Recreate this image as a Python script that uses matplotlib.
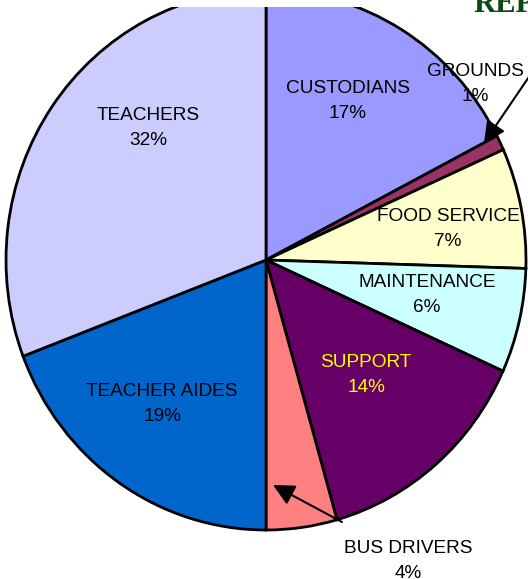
import matplotlib
matplotlib.use("Agg")
import matplotlib.pyplot as plt
from matplotlib.patches import Rectangle

categories = ["CUSTODIANS", "GROUNDS", "FOOD SERVICE", "MAINTENANCE",
              "SUPPORT", "BUS DRIVERS", "TEACHER AIDES", "TEACHERS"]
# wedge sizes as drawn and the printed percentages
shares = [17.4, 0.9, 7.2, 6.25, 13.85, 4.4, 19.2, 30.8]
pct_labels = [17, 1, 7, 6, 14, 4, 19, 32]
colors = ["#9999FF", "#993366", "#FFFFCC", "#CCFFFF",
          "#660066", "#FF8080", "#0066CC", "#CCCCFF"]
text_colors = ["black", "black", "black", "black",
               "#FFFF00", "black", "black", "black"]

# label centres in pixel space (x, y from top)
label_pos = [(348, 101), (475, 84), (448, 229), (427, 295),
             (366, 375), (408, 561), (162, 404), (148, 128)]

W, H = 528, 579
cx, cy = 266, 260
rx, ry = 260, 270

plt.rcParams["font.family"] = ["Liberation Sans", "DejaVu Sans"]

fig = plt.figure(figsize=(W / 100, H / 100), dpi=100)
ax = fig.add_axes([0, 0, 1, 1])

ax.pie(shares, colors=colors, startangle=90, counterclock=False,
       radius=1, center=(0, 0),
       wedgeprops=dict(edgecolor="black", linewidth=2))
ax.set_aspect("auto")
ax.set_xlim(-cx / rx, (W - cx) / rx)
ax.set_ylim(-(H - cy) / ry, cy / ry)
ax.axis("off")


def to_data(px, py):
    return (px - cx) / rx, (cy - py) / ry


# the top of the pie is cut off by a white strip in the original
ax.add_patch(Rectangle((0, 1 - 7 / H), 1, 7 / H, transform=ax.transAxes,
                       facecolor="white", edgecolor="none", zorder=5))

for name, pct, (px, py), tc in zip(categories, pct_labels, label_pos, text_colors):
    x, y = to_data(px, py)
    ax.text(x, y, f"{name}\n{pct}%", ha="center", va="center",
            fontsize=13.7, color=tc, linespacing=1.55)

arrow_style = dict(arrowstyle="-|>,head_length=1.3,head_width=0.65",
                   color="black", lw=1.5, shrinkA=0, shrinkB=0)
ax.annotate("", xy=to_data(484, 143), xytext=to_data(535, 68),
            arrowprops=arrow_style, annotation_clip=False)
ax.annotate("", xy=to_data(273, 485), xytext=to_data(342, 522),
            arrowprops=arrow_style, annotation_clip=False)

fig.text(473 / W, 1 - 12 / H, "REPORT", ha="left", va="baseline",
         fontsize=22, fontweight="bold", color="#0B4A12",
         family="Liberation Serif")

fig.savefig("out.png", dpi=100)
